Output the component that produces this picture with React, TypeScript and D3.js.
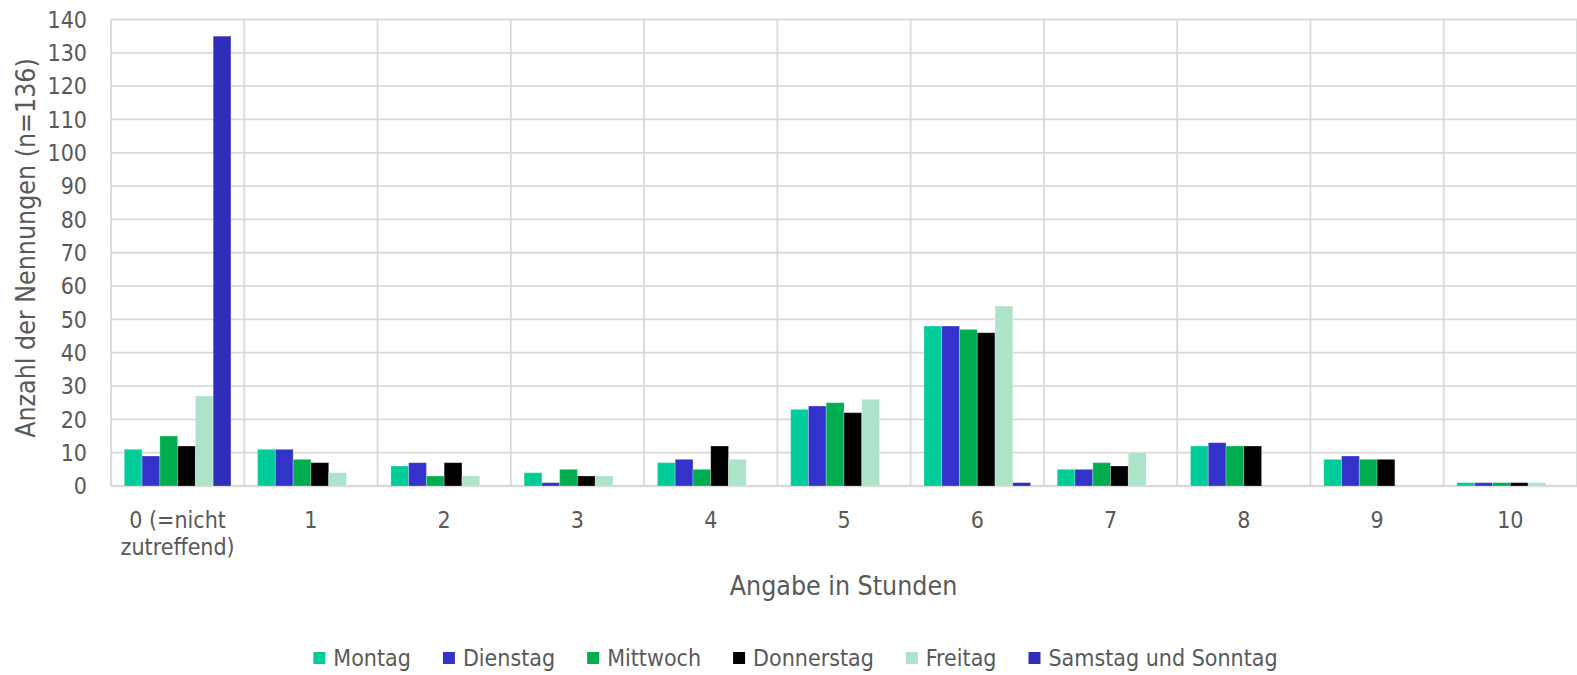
import React from "react";
import * as d3 from "d3";

const categories = ["0 (=nicht\nzutreffend)", "1", "2", "3", "4", "5", "6", "7", "8", "9", "10"];
const seriesNames = ["Montag", "Dienstag", "Mittwoch", "Donnerstag", "Freitag", "Samstag und Sonntag"];
const seriesColors = ["#00CC99", "#3333CC", "#00AD50", "#000000", "#ADE3C9", "#2E2EB8"];
const montag = [11, 11, 6, 4, 7, 23, 48, 5, 12, 8, 1];
const dienstag = [9, 11, 7, 1, 8, 24, 48, 5, 13, 9, 1];
const mittwoch = [15, 8, 3, 5, 5, 25, 47, 7, 12, 8, 1];
const donnerstag = [12, 7, 7, 3, 12, 22, 46, 6, 12, 8, 1];
const freitag = [27, 4, 3, 3, 8, 26, 54, 10, 0, 0, 1];
const wochenende = [135, 0, 0, 0, 0, 0, 1, 0, 0, 0, 0];
const yTicks = [0, 10, 20, 30, 40, 50, 60, 70, 80, 90, 100, 110, 120, 130, 140];

const seriesValues = [montag, dienstag, mittwoch, donnerstag, freitag, wochenende];

const W = 1577;
const H = 675;
const FONT = "'DejaVu Sans Condensed', 'DejaVu Sans', sans-serif";
const TEXT = "#595959";
const GRID = "#D9D9D9";

function measure(text: string, size: number): number {
  if (typeof document === "undefined") return text.length * size * 0.5;
  const c = document.createElement("canvas");
  const ctx = c.getContext("2d");
  if (!ctx) return text.length * size * 0.5;
  ctx.font = `${size}px 'DejaVu Sans Condensed', 'DejaVu Sans', sans-serif`;
  return ctx.measureText(text).width;
}

export default function App() {
  const left = 111;
  const right = 1577;
  const top = 19.5;
  const bottom = 486;

  const x0 = d3.scaleBand<string>().domain(categories).range([left, right]).paddingInner(0).paddingOuter(0);
  const x1 = d3.scaleBand<string>().domain(seriesNames).range([0, x0.bandwidth()]).paddingInner(0).paddingOuter(0.75);
  const y = d3.scaleLinear().domain([0, 140]).range([bottom, top]);

  const fs = 23;
  const titleFs = 26.5;

  // legend layout
  const sq = 12;
  const sqGap = 8;
  const itemGap = 32;
  const widths = seriesNames.map((s) => measure(s, fs));
  const total = widths.reduce((a, w) => a + sq + sqGap + w, 0) + itemGap * (seriesNames.length - 1);
  let lx = (W - total) / 2 + 7;
  const legendItems = seriesNames.map((s, i) => {
    const item = { name: s, x: lx, color: seriesColors[i] };
    lx += sq + sqGap + widths[i] + itemGap;
    return item;
  });

  const boundaries = categories.map((c) => x0(c) as number).concat([right]);

  return (
    <svg width={W} height={H} style={{ position: "absolute", left: 0, top: 0, background: "#fff" }} fontFamily={FONT}>
      {/* horizontal grid */}
      {yTicks.map((t) => (
        <line key={"h" + t} x1={left} x2={right} y1={y(t)} y2={y(t)} stroke={GRID} strokeWidth={t === 0 ? 2.5 : 1.8} />
      ))}
      {/* vertical grid */}
      {boundaries.map((bx, i) => (
        <line key={"v" + i} x1={bx} x2={bx} y1={top} y2={bottom} stroke={GRID} strokeWidth={1.8} />
      ))}
      {/* bars */}
      {categories.map((c, ci) => (
        <g key={"g" + ci} transform={`translate(${x0(c)},0)`}>
          {seriesNames.map((s, si) => {
            const v = seriesValues[si][ci];
            if (!v) return null;
            return (
              <rect
                key={s}
                x={x1(s) as number}
                y={y(v)}
                width={x1.bandwidth()}
                height={y(0) - y(v)}
                fill={seriesColors[si]}
                stroke="rgba(255,255,255,0.25)"
                strokeWidth={1}
              />
            );
          })}
        </g>
      ))}
      {/* y tick labels */}
      {yTicks.map((t) => (
        <text key={"yt" + t} x={87} y={y(t)} dy="0.36em" textAnchor="end" fontSize={fs} fill={TEXT}>
          {t}
        </text>
      ))}
      {/* x labels */}
      {categories.map((c) => {
        const cx = (x0(c) as number) + x0.bandwidth() / 2;
        const lines = c.split("\n");
        return (
          <text key={"xl" + c} x={cx} y={528} textAnchor="middle" fontSize={fs} fill={TEXT}>
            {lines.map((l, i) => (
              <tspan key={i} x={cx} dy={i === 0 ? 0 : 27}>
                {l}
              </tspan>
            ))}
          </text>
        );
      })}
      {/* axis titles */}
      <text x={843.5} y={595} textAnchor="middle" fontSize={titleFs} fill={TEXT}>
        Angabe in Stunden
      </text>
      <text transform={`translate(35,248) rotate(-90)`} textAnchor="middle" fontSize={titleFs} fill={TEXT}>
        Anzahl der Nennungen (n=136)
      </text>
      {/* legend */}
      {legendItems.map((it) => (
        <g key={"lg" + it.name}>
          <rect x={it.x} y={652} width={sq} height={sq} fill={it.color} />
          <text x={it.x + sq + sqGap} y={666} fontSize={fs} fill={TEXT}>
            {it.name}
          </text>
        </g>
      ))}
    </svg>
  );
}
